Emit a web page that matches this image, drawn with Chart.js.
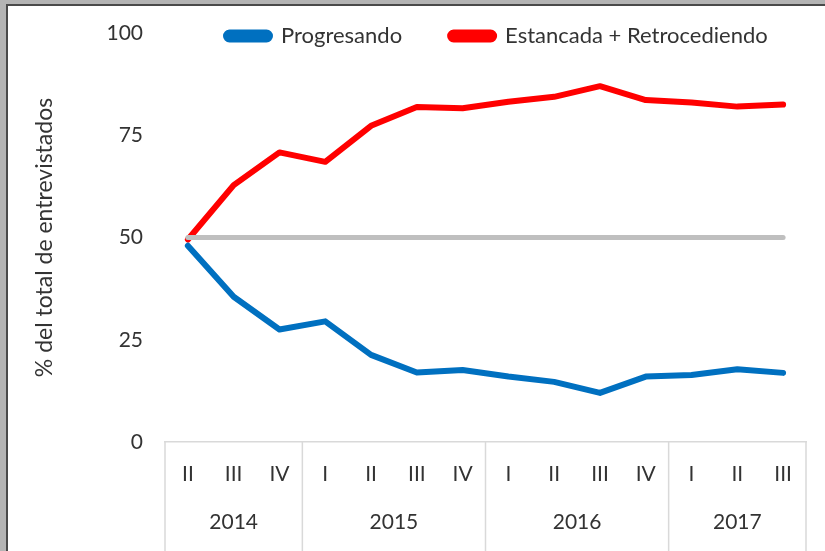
<!DOCTYPE html>
<html>
<head>
<meta charset="utf-8">
<script src="https://cdn.jsdelivr.net/npm/chart.js@4"></script>
<style>
    html, body { margin: 0; padding: 0; }
    body { width: 825px; height: 551px; background: #b4b4b4; position: relative; overflow: hidden; }
    #frame { position: absolute; left: 6px; top: 4px; right: 0; bottom: 0; background: #fff;
             border-left: 2px solid #4a4a4a; border-top: 2px solid #4a4a4a; }
    #frame canvas { display: block; }
</style>
</head>
<body>
<div id="frame"><canvas id="myChart" width="817" height="545"></canvas></div>
<script>
// quarters and years (multi-level axis)
const quarters = ['II', 'III', 'IV', 'I', 'II', 'III', 'IV', 'I', 'II', 'III', 'IV', 'I', 'II', 'III'];
const years = ['2014', '2015', '2016', '2017'];
const yearSizes = [3, 4, 4, 3];

const progresando = [48.0, 35.5, 27.5, 29.5, 21.3, 17.0, 17.6, 16.0, 14.7, 12.0, 16.0, 16.4, 17.8, 16.9];
const estancada = [49.5, 62.8, 70.8, 68.5, 77.3, 81.9, 81.6, 83.2, 84.4, 87.0, 83.6, 83.0, 82.0, 82.5];
const refLine = [50, 50, 50, 50, 50, 50, 50, 50, 50, 50, 50, 50, 50, 50];

const yTicks = [0, 25, 50, 75, 100];

const fontFam = 'Lato, "Open Sans", sans-serif';
const txtColor = '#333333';

// year row + separators under the x axis
const yearAxisPlugin = {
    id: 'yearAxis',
    afterDraw(chart) {
        const ctx = chart.ctx;
        const xs = chart.scales.x;
        const area = chart.chartArea;
        const bottom = chart.height;
        let start = 0;
        const bounds = [area.left];
        ctx.save();
        ctx.font = '21px ' + fontFam;
        ctx.fillStyle = txtColor;
        ctx.textAlign = 'center';
        ctx.textBaseline = 'middle';
        years.forEach((yr, i) => {
            const end = start + yearSizes[i] - 1;
            const mid = (xs.getPixelForValue(start) + xs.getPixelForValue(end)) / 2;
            ctx.fillText(yr, mid, area.bottom + 80);
            if (end < quarters.length - 1) {
                bounds.push((xs.getPixelForValue(end) + xs.getPixelForValue(end + 1)) / 2);
            }
            start = end + 1;
        });
        bounds.push(area.right);
        ctx.strokeStyle = '#d9d9d9';
        ctx.lineWidth = 1.5;
        bounds.forEach(bx => {
            ctx.beginPath();
            ctx.moveTo(bx, area.bottom);
            ctx.lineTo(bx, bottom);
            ctx.stroke();
        });
        ctx.restore();
    }
};

// put the legend inside the plot, on the row of the 100 label
const legendShift = {
    id: 'legendShift',
    afterLayout(chart) {
        const lg = chart.legend;
        lg.top += 24; lg.bottom += 24;
        lg.left += 170; lg.right += 170;
    }
};

const ctx = document.getElementById('myChart').getContext('2d');
const data = {
    labels: quarters,
    datasets: [{
        label: 'Progresando',
        data: progresando,
        borderColor: '#0070c0',
        backgroundColor: '#0070c0',
        borderWidth: 6,
        order: 1
    },
        {
            label: 'Estancada + Retrocediendo',
            data: estancada,
            borderColor: '#ff0000',
            backgroundColor: '#ff0000',
            borderWidth: 6,
            order: 2
        },
        {
            label: 'ref',
            data: refLine,
            borderColor: '#bfbfbf',
            backgroundColor: '#bfbfbf',
            borderWidth: 5,
            order: 0
        }]
};
const config = {
    type: 'line',
    data: data,
    options: {
        responsive: false,
        animation: false,
        layout: {padding: {top: -53, right: 19, left: 0, bottom: 0}},
        elements: {
            point: {radius: 0},
            line: {tension: 0, borderCapStyle: 'round', borderJoinStyle: 'round'}
        },
        scales: {
            x: {
                offset: true,
                grid: {display: false, drawTicks: false},
                border: {display: true, color: '#d9d9d9', width: 1.5},
                ticks: {font: {family: fontFam, size: 21}, color: txtColor, padding: 20, maxRotation: 0, autoSkip: false},
                afterFit(scale) { scale.height = 109; }
            },
            y: {
                min: 0,
                max: 100,
                afterBuildTicks(scale) { scale.ticks = yTicks.map(v => ({value: v})); },
                grid: {display: false, drawTicks: true, tickLength: 22},
                border: {display: false},
                ticks: {font: {family: fontFam, size: 21}, color: txtColor, padding: 0},
                title: {
                    display: true,
                    text: '% del total de entrevistados',
                    font: {family: fontFam, size: 23},
                    color: txtColor,
                    padding: {top: 23, bottom: 0}
                },
                afterFit(scale) { scale.width = 157; }
            }
        },
        plugins: {
            tooltip: {enabled: false},
            legend: {
                display: true,
                position: 'top',
                align: 'start',
                labels: {
                    font: {family: fontFam, size: 22},
                    color: txtColor,
                    boxWidth: 44,
                    boxHeight: 7,
                    padding: 48,
                    useBorderRadius: true,
                    borderRadius: 3.5,
                    filter: item => item.text !== 'ref'
                }
            }
        }
    },
    plugins: [yearAxisPlugin, legendShift]
};
const myChart = new Chart(ctx, config);
</script>
</body>
</html>
